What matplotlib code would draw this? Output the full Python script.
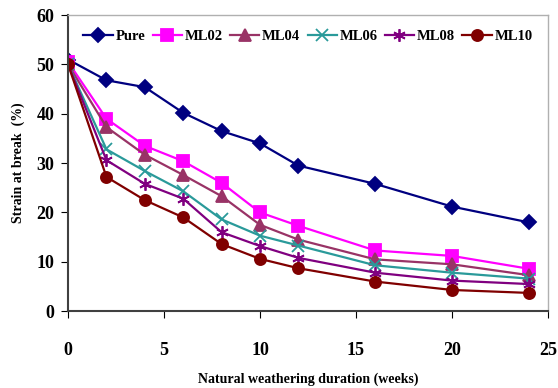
import matplotlib
matplotlib.use("Agg")
import matplotlib.pyplot as plt

# weathering time (weeks)
weeks = [0, 2, 4, 6, 8, 10, 12, 16, 20, 24]

# strain at break (%)
pure = [51, 46.8, 45.4, 40.2, 36.5, 34.0, 29.5, 25.8, 21.2, 18.0]
ml02 = [50.5, 39.0, 33.5, 30.4, 26.0, 20.0, 17.3, 12.3, 11.2, 8.6]
ml04 = [50.0, 37.3, 31.7, 27.6, 23.3, 17.5, 14.5, 10.5, 9.5, 7.3]
ml06 = [50.0, 32.8, 28.4, 24.3, 18.6, 15.3, 13.3, 9.3, 7.8, 6.6]
ml08 = [50.0, 30.6, 25.8, 22.8, 16.0, 13.2, 10.8, 7.8, 6.2, 5.5]
ml10 = [50.0, 27.2, 22.5, 19.0, 13.6, 10.6, 8.7, 6.0, 4.3, 3.7]

labels = ["Pure", "ML02", "ML04", "ML06", "ML08", "ML10"]
series = [pure, ml02, ml04, ml06, ml08, ml10]
colors = ["#000080", "#FF00FF", "#993366", "#2A9A9A", "#800080", "#800000"]
markers = ["D", "s", "^", "x", (6, 2, 0), "o"]
msizes = [7, 8, 8, 8, 9, 8]

plt.rcParams["font.family"] = ["Liberation Serif", "DejaVu Serif"]
plt.rcParams["font.weight"] = "bold"

fig = plt.figure(figsize=(5.58, 3.88), dpi=100)
ax = fig.add_axes([0.122, 0.198, 0.86, 0.763])

for y, lab, c, m, ms in zip(series, labels, colors, markers, msizes):
    ax.plot(weeks, y, color=c, marker=m, markersize=ms, linewidth=1.6,
            markeredgewidth=1.3, label=lab)

ax.set_xlim(0, 25)
ax.set_ylim(0, 60)
ax.set_xticks([0, 5, 10, 15, 20, 25])
ax.set_yticks(range(0, 61, 10))
ax.tick_params(axis="x", direction="out", length=5, pad=17, labelsize=13)
ax.tick_params(axis="y", direction="out", length=5, pad=5, labelsize=13)
for lbl in ax.get_xticklabels() + ax.get_yticklabels():
    lbl.set_fontweight("bold")

for s in ["left", "bottom"]:
    ax.spines[s].set_color("#404040")
    ax.spines[s].set_linewidth(1.5)
for s in ["top", "right"]:
    ax.spines[s].set_color("#b0b0b0")
    ax.spines[s].set_linewidth(1.0)

ax.set_xlabel("Natural weathering duration (weeks)", fontsize=10,
              fontweight="bold", labelpad=10)
ax.set_ylabel("Strain at break  (%)", fontsize=10, fontweight="bold",
              labelpad=8)

leg = ax.legend(loc="upper center", ncol=6, frameon=False, fontsize=10.5,
                handlelength=2.0, handletextpad=0.2, columnspacing=0.5,
                bbox_to_anchor=(0.5, 0.995))
for t in leg.get_texts():
    t.set_fontweight("bold")

fig.savefig("out.png", dpi=100)
